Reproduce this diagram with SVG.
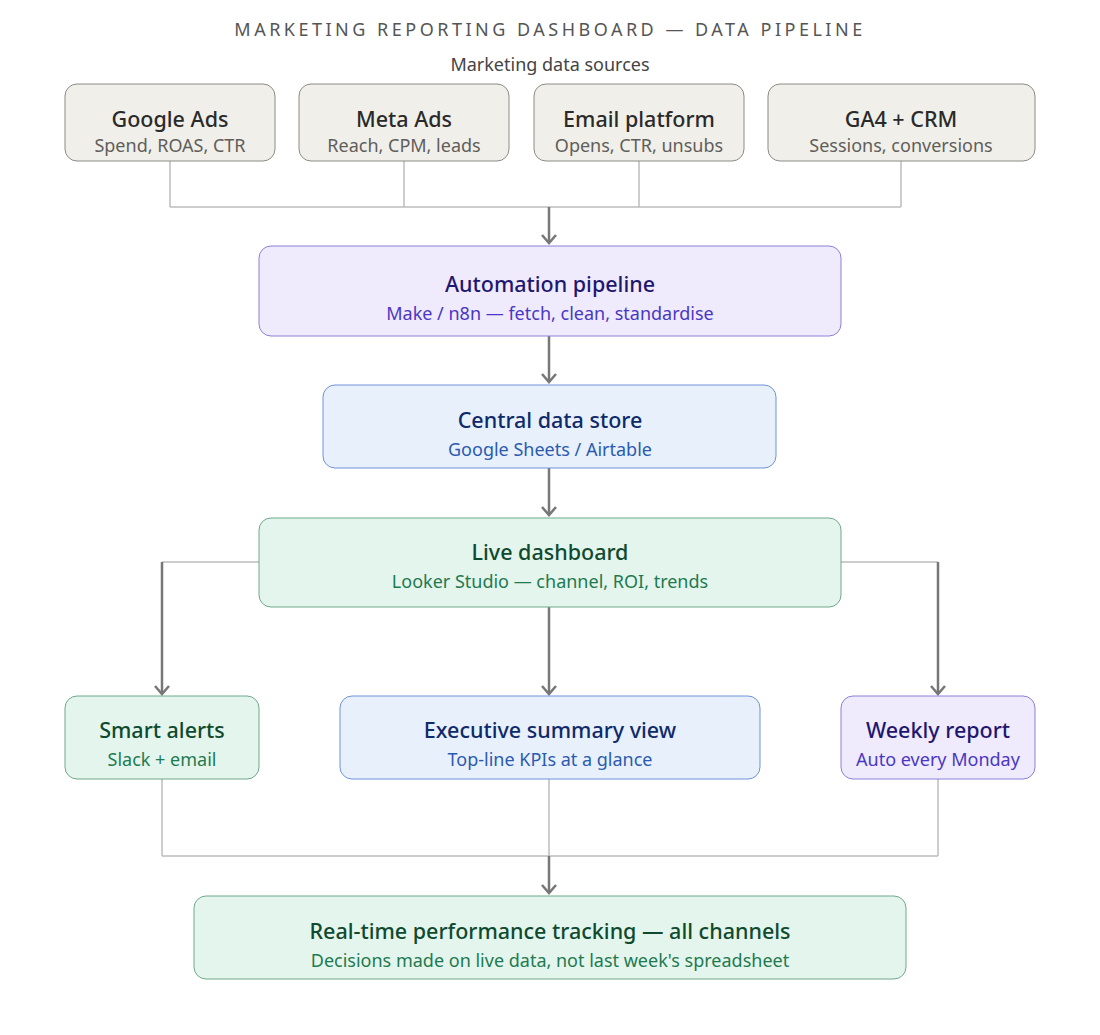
<svg xmlns="http://www.w3.org/2000/svg" width="1100" height="1035" viewBox="0 0 1100 1035">
<style>
text{font-family:"Noto Sans","Open Sans","Liberation Sans",sans-serif;text-anchor:middle;dominant-baseline:central}
.title{font-size:18px;fill:#555;letter-spacing:3.5px}
.cap{font-size:18px;fill:#444}
.t{font-size:21.5px;font-weight:500}
.s{font-size:18px}
.src rect{fill:#f1efea;stroke:#8c8a84;stroke-width:1}
.src .t{fill:#2a2a2a}.src .s{fill:#5f5e5a}
.pur rect{fill:#efebfd;stroke:#8a80d8;stroke-width:1}
.pur .t{fill:#1f1670}.pur .s{fill:#4a37c4}
.blu rect{fill:#e8f0fc;stroke:#6f92d8;stroke-width:1}
.blu .t{fill:#0f2a6a}.blu .s{fill:#2b5bb0}
.grn rect{fill:#e3f5ed;stroke:#6fa88b;stroke-width:1}
.grn .t{fill:#0f4a2f}.grn .s{fill:#1f7a50}
.thin{fill:none;stroke:#bdbdbd;stroke-width:1.5}
.arr{fill:none;stroke:#777;stroke-width:2.5;marker-end:url(#ah)}
</style>
<defs>
<marker id="ah" markerUnits="userSpaceOnUse" markerWidth="20" markerHeight="20" viewBox="-10 -10 20 20" refX="0" refY="0" orient="auto">
<path d="M-8,-7 L0,0 L-8,7" fill="none" stroke="#777" stroke-width="2.5"/>
</marker>
</defs>
<text class="title" x="550" y="29">MARKETING REPORTING DASHBOARD — DATA PIPELINE</text>
<text class="cap" x="550" y="64">Marketing data sources</text>
<g id="connectors">
<path class="thin" d="M170,161 V207 M404,161 V207 M639,161 V207 M901,161 V207 M170,207 H901"/>
<path class="arr" d="M549,207 V243"/>
<path class="arr" d="M549,336 V382"/>
<path class="arr" d="M549,468 V515"/>
<path class="thin" d="M259,562 H162 M841,562 H938"/>
<path class="arr" d="M162,562 V694"/>
<path class="arr" d="M938,562 V694"/>
<path class="arr" d="M549,607 V694"/>
<path class="thin" d="M162,779 V856 M549,779 V856 M938,779 V856 M162,856 H938"/>
<path class="arr" d="M549,856 V893"/>
</g>
<g id="google-ads" class="src"><rect x="65" y="84" width="210" height="77" rx="12"/><text class="t" x="170" y="118">Google Ads</text><text class="s" x="170" y="145">Spend, ROAS, CTR</text></g>
<g id="meta-ads" class="src"><rect x="299" y="84" width="210" height="77" rx="12"/><text class="t" x="404" y="118">Meta Ads</text><text class="s" x="404" y="145">Reach, CPM, leads</text></g>
<g id="email-platform" class="src"><rect x="534" y="84" width="210" height="77" rx="12"/><text class="t" x="639" y="118">Email platform</text><text class="s" x="639" y="145">Opens, CTR, unsubs</text></g>
<g id="ga4-crm" class="src"><rect x="768" y="84" width="267" height="77" rx="12"/><text class="t" x="901" y="118">GA4 + CRM</text><text class="s" x="901" y="145">Sessions, conversions</text></g>
<g id="automation" class="pur"><rect x="259" y="246" width="582" height="90" rx="12"/><text class="t" x="550" y="283">Automation pipeline</text><text class="s" x="550" y="313">Make / n8n — fetch, clean, standardise</text></g>
<g id="data-store" class="blu"><rect x="323" y="385" width="453" height="83" rx="12"/><text class="t" x="550" y="419">Central data store</text><text class="s" x="550" y="449">Google Sheets / Airtable</text></g>
<g id="live-dashboard" class="grn"><rect x="259" y="518" width="582" height="89" rx="12"/><text class="t" x="550" y="551">Live dashboard</text><text class="s" x="550" y="581">Looker Studio — channel, ROI, trends</text></g>
<g id="smart-alerts" class="grn"><rect x="65" y="696" width="194" height="83" rx="12"/><text class="t" x="162" y="729">Smart alerts</text><text class="s" x="162" y="759">Slack + email</text></g>
<g id="exec-summary" class="blu"><rect x="340" y="696" width="420" height="83" rx="12"/><text class="t" x="550" y="729">Executive summary view</text><text class="s" x="550" y="759">Top-line KPIs at a glance</text></g>
<g id="weekly-report" class="pur"><rect x="841" y="696" width="194" height="83" rx="12"/><text class="t" x="938" y="729">Weekly report</text><text class="s" x="938" y="759">Auto every Monday</text></g>
<g id="realtime" class="grn"><rect x="194" y="896" width="712" height="83" rx="12"/><text class="t" x="550" y="930">Real-time performance tracking — all channels</text><text class="s" x="550" y="960">Decisions made on live data, not last week's spreadsheet</text></g>
</svg>
